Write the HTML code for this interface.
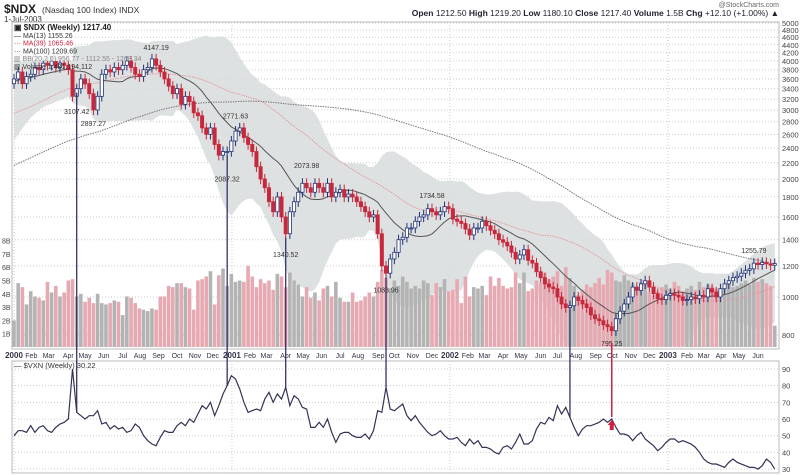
<!DOCTYPE html>
<html><head><meta charset="utf-8"><style>
body{margin:0;background:#fff;width:800px;height:475px;overflow:hidden}
svg{display:block;font-family:"Liberation Sans",sans-serif}
</style></head><body>
<svg id="c" width="800" height="475"></svg>
<script>
const closes=[3600,3750,3500,3650, 3700,3850,3800,3950, 3900,4000,3850,3950,3900, 3800,3250,3400,3600, 3500,3300,3000,3250, 3700,3800,3750,3850,3800, 3900,4000,3850,3700, 3650,3800,3850,4050, 3900,3750,3600,3450,3300, 3400,3100,3250,3150, 2950,2900,2700,2600, 2700,2450,2300,2350,2350,
2500,2650,2700,2550, 2450,2350,2150,2000, 1900,1750,1650,1800,1600, 1450,1650,1750,1850, 1950,1900,1850,1950, 1900,1850,1950,1800,1850, 1880,1800,1830,1800, 1750,1700,1650,1600, 1620,1450,1200,1150,1250, 1300,1400,1420,1500, 1500,1560,1600,1620, 1680,1650,1620,1650,1700,
1680,1580,1560,1540, 1490,1440,1500,1500, 1560,1520,1480,1450,1400, 1380,1350,1300,1250, 1280,1320,1240,1220, 1160,1120,1080,1060,1050, 1000,960,940,950, 1000,980,960,940, 900,880,870,850,840, 820,880,920,960, 1000,1060,1040,1080, 1100,1060,1020,990,985,
1010,1020,1010,1000, 980,985,1000,990, 1010,1000,1050,1030,1000, 1050,1080,1100,1120, 1130,1150,1170,1180, 1220,1210,1225,1215,1205, 1217];
const preCloses=[1100,1120,1150,1180,1200,1230,1250,1240,1260,1280,1300,1290,1310,1330,1320,1350,1380,1400,1390,1420,1450,1430,1400,1350,1300,1250,1200,1260,1320,1380,1420,1460,1500,1550,1600,1650,1700,1750,1800,1830,1860,1900,
1950,2000,2050,2100,2150,2120,2180,2200,2250,2300,2280,2250,2200,2260,2300,2320,2280,2300,2350,2400,2450,2420,2460,2500,2480,2450,2420,2400,2380,2350,2400,2450,2500,2520,2560,2600,2650,2700,2750,2800,2900,2950,3000,3100,3150,3200,3300,3350,3400,3450,3500,3550,3600,3650,3700,3600,3650,3700];
const volumes=[2.0,4.8,4.5,3.2, 4.2,3.8,3.7,3.5, 4.9,4.1,4.6,3.8,4.1, 5.0,5.1,3.8,4.0, 3.4,3.7,3.3,4.0, 3.3,3.2,3.3,3.5,3.4, 2.4,3.8,3.7,3.3, 2.9,2.8,2.7,2.9, 2.8,3.8,3.8,4.6,4.5, 4.8,4.8,4.5,4.4, 2.8,5.0,5.1,5.3, 5.7,3.2,5.4,5.9,4.6,
5.5,4.9,5.0,4.9, 6.1,5.3,4.5,5.1, 4.8,5.0,4.3,5.5,5.3, 4.5,5.6,5.0,4.7, 3.8,4.5,3.7,4.1, 3.5,4.4,4.6,3.8,4.9, 3.7,3.4,3.4,4.1, 3.4,3.5,3.8,4.1, 3.8,4.9,5.8,5.2,4.4, 5.0,4.6,5.3,4.9, 4.4,4.6,4.4,5.0, 4.8,3.9,4.8,4.5,5.1,
4.2,4.3,5.1,3.3, 5.3,3.8,4.5,4.4, 4.6,3.9,5.3,4.6,5.2, 4.6,4.4,4.5,5.6, 4.8,5.6,4.2,4.4, 5.0,4.8,5.6,5.1,5.3, 5.7,4.6,6.0,5.2, 4.6,3.9,4.3,4.7, 4.5,4.8,5.2,4.7,5.8, 5.6,5.0,4.9,5.4, 5.0,4.8,4.4,4.9, 4.9,4.1,3.9,4.2,4.5,
4.7,4.4,4.9,4.6, 4.2,4.4,4.6,4.3, 4.9,4.5,4.7,4.6,4.4, 4.3,4.7,4.8,4.5, 4.6,4.8,5.0,4.7, 5.2,4.9,5.1,4.8,4.6, 1.6];
const vxn=[50,53,53,52, 56,52,55,56, 53,52,55,57,58, 60,90,64,62, 60,62,62,65, 57,58,54,56,54, 55,52,53,57, 55,50,47,45, 44,49,53,52,52, 56,58,56,60, 58,63,68,66, 70,62,68,75,80,
86,84,78,70, 64,65,66,65, 72,76,70,75,72, 79,68,74,72, 67,66,55,55, 58,55,60,52,46, 51,52,52,50, 49,49,51,48, 53,65,64,79,66, 65,67,69,62, 59,62,58,55, 52,50,51,53,50,
48,48,49,46, 44,48,45,47, 43,43,42,40,39, 43,44,42,46, 51,45,45,47, 54,58,57,61,59, 68,63,67,61, 55,50,54,56, 56,57,58,60,58, 60,55,51,51, 50,47,50,52, 48,46,44,41,43,
46,48,48,46, 47,46,45,43, 40,36,34,33,33, 32,31,34,36, 34,33,32,31, 31,30,32,36,34, 30];
const priceTicks=[800,1000,1200,1400,1600,1800,2000,2200,2400,2600,2800,3000,3200,3400,3600,3800,4000,4200,4400,4600,4800,5000];
const volTicks=[1,2,3,4,5,6,7,8];
const vxnTicks=[30,40,50,60,70,80,90];
const months=[["2000","2000-01-03"],["Feb","2000-02-01"],["Mar","2000-03-01"],["Apr","2000-04-03"],["May","2000-05-01"],["Jun","2000-06-01"],["Jul","2000-07-03"],["Aug","2000-08-01"],["Sep","2000-09-01"],["Oct","2000-10-02"],["Nov","2000-11-01"],["Dec","2000-12-01"],
["2001","2001-01-02"],["Feb","2001-02-01"],["Mar","2001-03-01"],["Apr","2001-04-02"],["May","2001-05-01"],["Jun","2001-06-01"],["Jul","2001-07-02"],["Aug","2001-08-01"],["Sep","2001-09-04"],["Oct","2001-10-01"],["Nov","2001-11-01"],["Dec","2001-12-03"],
["2002","2002-01-02"],["Feb","2002-02-01"],["Mar","2002-03-01"],["Apr","2002-04-01"],["May","2002-05-01"],["Jun","2002-06-03"],["Jul","2002-07-01"],["Aug","2002-08-01"],["Sep","2002-09-03"],["Oct","2002-10-01"],["Nov","2002-11-01"],["Dec","2002-12-02"],
["2003","2003-01-02"],["Feb","2003-02-03"],["Mar","2003-03-03"],["Apr","2003-04-01"],["May","2003-05-01"],["Jun","2003-06-02"]];
const labels=[["4147.19",34],["3107.42",15],["2897.27",19],["2771.63",53],["2087.32",51],["2073.98",70],["1340.52",65],["1088.96",89],["1734.58",100],["795.25",143],["1255.79",177]];
const divergenceWeeks=[15,51,65,89,133];
const redWeek=143;

const S=document.getElementById('c'),NS="http://www.w3.org/2000/svg";
function mk(t,a,p,txt){const e=document.createElementNS(NS,t);for(const k in a)e.setAttribute(k,a[k]);if(txt!=null)e.textContent=txt;(p||S).appendChild(e);return e;}
const L=12,R=779,T=22,B=349,VT=361,VB=473;
const start=new Date("2000-01-03").getTime(),WK=7*864e5;
const X=i=>14+i*4.18;
const Y=v=>297-392*Math.log10(v/1000);
const VY=v=>347-v*13.3;
const XY=v=>369+(90-v)*1.667;
const n=closes.length;
const all=preCloses.concat(closes),off=preCloses.length;
function ma(p,i){let s=0;for(let k=0;k<p;k++)s+=all[off+i-k];return s/p;}
function sd(p,i,m){let s=0;for(let k=0;k<p;k++){const d=all[off+i-k]-m;s+=d*d;}return Math.sqrt(s/p);}

let t=mk('text',{x:4,y:13,'font-size':12,'font-weight':'bold',fill:'#222'},null,'$NDX');
mk('text',{x:42,y:13,'font-size':8.5,fill:'#333'},null,'(Nasdaq 100 Index) INDX');
t=mk('text',{x:4,y:22,'font-size':8,fill:'#333'},null,'1-Jul-2003');
t=mk('text',{x:779,y:16,'font-size':8.5,fill:'#223','text-anchor':'end'},null,'');
t.innerHTML='<tspan font-weight="bold">Open</tspan> 1212.50 <tspan font-weight="bold">High</tspan> 1219.20 <tspan font-weight="bold">Low</tspan> 1180.10 <tspan font-weight="bold">Close</tspan> 1217.40 <tspan font-weight="bold">Volume</tspan> 1.5B <tspan font-weight="bold">Chg</tspan> +12.10 (+1.00%) ▲';
mk('text',{x:779,y:7,'font-size':7,fill:'#666','text-anchor':'end'},null,'@StockCharts.com');

const mp=mk('rect',{x:L,y:T,width:R-L,height:B-T,fill:'#fff',stroke:'#bbb'});
const vp=mk('rect',{x:L,y:VT,width:R-L,height:VB-VT,fill:'#fff',stroke:'#bbb'});

priceTicks.forEach(v=>{const y=Y(v);mk('line',{x1:L,x2:R,y1:y,y2:y,stroke:'#ccc','stroke-dasharray':'1,2'});
 const e=mk('text',{x:782,y:y+3,'font-size':7.5,fill:'#444'},null,v);});
volTicks.forEach(v=>{const e=mk('text',{x:2,y:VY(v)+3,'font-size':7,fill:'#444'},null,v+'B');});
vxnTicks.forEach(v=>{const y=XY(v);mk('line',{x1:L,x2:R,y1:y,y2:y,stroke:'#ccc','stroke-dasharray':'1,2'});
 const e=mk('text',{x:782,y:y+3,'font-size':7.5,fill:'#444'},null,v);});
months.forEach(m=>{const i=(new Date(m[1]).getTime()-start)/WK;const x=X(i);const yr=/^\d/.test(m[0]);
 if(yr){mk('line',{x1:x,x2:x,y1:T,y2:B,stroke:'#ccc','stroke-dasharray':'1,2'});mk('line',{x1:x,x2:x,y1:VT,y2:VB,stroke:'#ccc','stroke-dasharray':'1,2'});}
 const e=mk('text',{x:x,y:358,'font-size':yr?8:7,'font-weight':yr?'bold':'normal',fill:'#334','text-anchor':'middle'},null,m[0]);});

// Bollinger band
let up=[],lo=[];for(let i=0;i<n;i++){const m=ma(20,i),s=sd(20,i,m)*1.2+m*0.025;up.push(X(i)+','+Math.max(T+1,Y(m+2*s)));lo.push(X(i)+','+Math.min(B-3,Y(Math.max(m-2*s,300))));}
const bb=mk('polygon',{points:up.concat(lo.reverse()).join(' '),fill:'#d8dcdc',opacity:0.85});

for(let i=0;i<n;i++){const dn=i>0?closes[i]<closes[i-1]:false;const r=mk('rect',{x:X(i)-1.8,y:VY(volumes[i]),width:3.6,height:volumes[i]*13.3,fill:dn?'#e6a9b1':'#b3b3b3'});
}

function maLine(p,col,dash,name){let pts=[];for(let i=0;i<n;i++)pts.push(X(i)+','+Y(ma(p,i)));const e=mk('polyline',{points:pts.join(' '),fill:'none',stroke:col,'stroke-width':1,'stroke-dasharray':dash||''});}
maLine(100,'#777','1.5,1','ma-100-line');maLine(39,'#e39aa0','1.5,1','ma-39-line');maLine(13,'#555',null,'ma-13-line');

for(let i=0;i<n;i++){const o=i>0?closes[i-1]:3500,c=closes[i];const hi=Math.max(o,c)*1.03,lw=Math.min(o,c)*0.97;const dn=c<o;const x=X(i);
 const g=mk('g',{});
 mk('line',{x1:x,x2:x,y1:Y(hi),y2:Y(lw),stroke:dn?'#c8283c':'#223377','stroke-width':1},g);
 const y1=Y(Math.max(o,c)),y2=Y(Math.min(o,c));
 mk('rect',{x:x-1.6,y:y1,width:3.2,height:Math.max(1,y2-y1),fill:dn?'#c8283c':'#fff',stroke:dn?'#c8283c':'#223377','stroke-width':0.8},g);}

labels.forEach(l=>{const i=l[1],v=parseFloat(l[0]);const lowLab=[15,19,51,65,89,143].includes(i);
 const e=mk('text',{x:X(i),y:lowLab?Y(v)+10:Y(v)-5,'font-size':7,fill:'#333','text-anchor':'middle'},null,l[0]);});

let vp2=[];for(let i=0;i<n;i++)vp2.push(X(i)+','+XY(vxn[i]));
const vl=mk('polyline',{points:vp2.join(' '),fill:'none',stroke:'#333355','stroke-width':1.2});

divergenceWeeks.forEach(i=>{const x=X(i);const e=mk('line',{x1:x,x2:x,y1:Y(closes[i])+4,y2:XY(vxn[i]),stroke:'#333366','stroke-width':1.3});});
{const x=X(redWeek);const e=mk('line',{x1:x,x2:x,y1:Y(closes[redWeek])+12,y2:XY(vxn[redWeek])-2,stroke:'#d02040','stroke-width':1.5});
 const yb=XY(vxn[redWeek]);
 const a=mk('polygon',{points:`${x-4},${yb+6} ${x},${yb+1} ${x+4},${yb+6} ${x+2},${yb+6} ${x+2},${yb+11} ${x-2},${yb+11} ${x-2},${yb+6}`,fill:'#d02040'});}

const lg=mk('g',{});
mk('rect',{x:13,y:23,width:60,height:38,fill:'#fff',opacity:0.8},lg);
[['▣ $NDX (Weekly) 1217.40','#222',8,'bold'],['— MA(13) 1155.26','#333',7,'normal'],['··· MA(39) 1065.46','#d02040',7,'normal'],['··· MA(100) 1209.69','#333',7,'normal'],['▥ BB(20,2.0) 956.77 - 1112.55 - 1268.34','#888',7,'normal'],['▥ Volume 1,481,194,112','#333',7,'normal']].forEach((r,k)=>{
 mk('text',{x:14,y:30+k*7.8,'font-size':r[2],fill:r[1],'font-weight':r[3]},lg,r[0]);});
const vlg=mk('text',{x:14,y:368,'font-size':7.5,fill:'#333'},null,'— $VXN (Weekly) 30.22');
</script>
</body></html>
